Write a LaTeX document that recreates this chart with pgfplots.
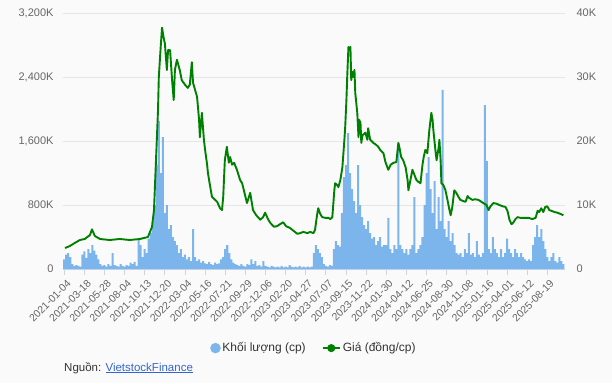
\documentclass[border=0pt]{standalone}
\usepackage{pgfplots}
\pgfplotsset{compat=1.18}
\usepackage{fontspec}
\setmainfont{Liberation Sans}
\definecolor{vol}{HTML}{7CB5EC}
\definecolor{price}{HTML}{008000}
\definecolor{gridc}{HTML}{E6E6E6}
\definecolor{axisc}{HTML}{CCD6EB}
\definecolor{lbl}{HTML}{666666}
\definecolor{txt}{HTML}{333333}
\definecolor{bg}{HTML}{FAFAFA}
\definecolor{link}{HTML}{3366CC}

\pgfplotstableread{
x v
0 120
5 180
10 200
15 150
20 60
25 40
30 50
35 40
40 30
45 180
50 220
55 140
60 250
65 200
70 300
75 230
80 180
85 120
90 60
95 40
100 50
105 30
110 60
115 40
120 200
125 50
130 40
135 30
140 60
145 40
150 30
155 50
160 40
165 80
170 60
175 90
180 40
185 360
190 300
195 150
200 250
205 200
210 380
215 450
220 600
225 800
230 1300
235 1850
240 1200
245 1650
250 700
255 800
260 500
265 550
270 400
275 350
280 300
285 200
290 250
295 150
300 180
305 120
310 150
315 100
320 500
325 150
330 100
335 120
340 80
345 100
350 70
355 60
360 90
365 60
370 50
375 80
380 60
385 70
390 120
395 150
400 250
405 300
410 200
415 120
420 80
425 60
430 50
435 40
440 60
445 40
450 30
455 60
460 50
465 120
470 60
475 100
480 40
485 50
490 30
495 100
500 40
505 30
510 20
515 40
520 30
525 20
530 30
535 20
540 40
545 20
550 30
555 20
560 50
565 30
570 20
575 30
580 20
585 40
590 20
595 30
600 20
605 30
610 20
615 30
620 200
625 300
630 250
635 200
640 150
645 60
650 40
655 30
660 50
665 40
670 250
675 350
680 300
685 280
690 700
695 1150
700 1300
705 1700
710 1200
715 1000
720 850
725 700
730 1300
735 800
740 650
745 550
750 500
755 600
760 450
765 380
770 400
775 300
780 350
785 400
790 280
795 300
800 300
805 640
810 250
815 200
820 300
825 250
830 1575
835 300
840 250
845 200
850 250
855 180
860 250
865 300
870 900
875 200
880 250
885 300
890 400
895 800
900 1200
905 1400
910 1000
915 700
920 1100
925 500
930 900
935 600
940 2240
945 500
950 400
955 600
960 350
965 450
970 300
975 200
980 180
985 200
990 150
995 250
1000 200
1005 450
1010 180
1015 200
1020 150
1025 350
1030 180
1035 150
1040 200
1045 2050
1050 1350
1055 250
1060 200
1065 400
1070 250
1075 200
1080 150
1085 250
1090 150
1095 200
1100 380
1105 250
1110 200
1115 150
1120 250
1125 200
1130 150
1135 200
1140 150
1145 120
1150 100
1155 120
1160 100
1165 300
1170 400
1175 550
1180 400
1185 500
1190 350
1195 250
1200 150
1205 100
1210 150
1215 200
1220 100
1225 80
1230 150
1235 100
1240 60
}\voltable

\pgfplotstableread{
x p
2 3.28
14 3.59
26 4.06
39 4.53
51 4.69
64 5.31
69 6.2
76 5.16
89 4.69
113 4.53
138 4.69
163 4.53
188 4.69
208 5.0
218 6.56
223 9.2
228 17.0
233 24.8
235 30.0
240 35.0
243 37.7
248 35.8
250 35.3
255 31.1
258 34.2
263 34.2
268 29.5
272 26.4
275 31.1
280 32.7
287 31.1
292 29.5
300 28.8
307 28.3
312 28.8
317 32.3
320 29.1
325 28.0
330 26.9
335 23.3
337 20.6
342 24.4
347 20.2
350 18.6
355 16.3
357 15.0
362 13.1
367 11.3
375 10.8
380 10.5
387 9.5
392 9.2
395 11.3
399 17.0
404 19.1
409 16.6
412 17.5
417 16.3
422 16.6
429 15.5
437 13.9
442 13.4
449 11.6
454 10.3
462 11.9
469 9.2
477 8.4
487 7.7
494 8.1
499 8.8
507 7.7
512 7.2
521 6.6
529 6.7
536 7.0
544 7.3
551 6.7
561 6.4
571 5.9
579 5.5
586 5.6
594 5.8
604 5.6
611 5.8
619 5.6
623 6.1
628 8.4
631 9.5
636 8.6
641 8.1
648 8.0
656 8.0
661 7.8
666 8.1
671 12.3
673 13.4
678 13.1
681 12.8
686 13.9
691 15.9
696 20.2
698 22.2
701 26.4
703 30.0
706 34.7
708 34.2
711 34.7
713 29.5
716 30.8
718 30.0
721 31.1
723 27.5
728 24.4
731 20.6
733 23.3
736 22.8
738 19.7
741 20.9
748 21.3
753 20.2
755 22.0
760 20.2
768 19.7
775 19.4
780 19.1
785 18.6
793 18.1
798 16.7
805 15.5
811 16.3
818 16.6
825 16.7
830 19.7
833 18.9
837 17.5
842 17.0
848 15.9
853 13.9
855 12.3
860 13.9
865 15.5
870 14.7
875 13.9
880 13.6
885 13.4
890 16.3
893 17.5
897 18.6
902 18.1
907 21.7
912 24.4
915 23.3
917 21.7
922 18.6
925 17.0
927 17.8
930 18.9
932 20.2
935 17.0
937 13.4
942 13.1
947 12.3
952 10.8
957 9.2
960 8.4
964 9.7
969 12.3
974 11.9
979 11.3
984 10.8
992 10.6
997 10.5
1002 11.4
1006 11.1
1014 10.8
1021 10.9
1029 10.8
1034 10.6
1041 10.3
1049 10.0
1054 9.2
1059 9.8
1066 10.3
1074 10.2
1081 10.0
1089 9.8
1096 9.7
1101 9.1
1106 7.7
1111 7.0
1116 7.3
1121 7.8
1126 8.1
1133 8.0
1143 8.0
1153 8.0
1163 7.8
1171 8.0
1176 9.1
1180 8.9
1185 9.5
1190 8.9
1195 9.7
1200 9.8
1205 9.2
1210 9.1
1218 8.9
1225 8.8
1233 8.6
1240 8.4
}\pricetable

\begin{document}
\begin{tikzpicture}[x=1pt,y=1pt]
\fill[bg] (-63,-114) rectangle (549,269);
\useasboundingbox (-63,-114) rectangle (549,269);
\begin{axis}[
  at={(0,0)}, anchor=south west, scale only axis,
  width=502pt, height=256pt,
  xmin=-3, xmax=1244, ymin=0, ymax=3200,
  axis x line*=bottom, axis y line*=left,
  x axis line style={axisc, line width=0.8pt, -},
  y axis line style={draw=none},
  ytick={0,800,1600,2400,3200},
  yticklabels={0,800K,{1,600K},{2,400K},{3,200K}},
  ymajorgrids, grid style={gridc, line width=0.8pt},
  major y tick style={draw=none},
  xtick={0,50,...,1200},
  xticklabels={2021-01-04,2021-03-18,2021-05-28,2021-08-04,2021-10-13,2021-12-20,2022-03-04,2022-05-16,2022-07-21,2022-09-29,2022-12-06,2023-02-20,2023-04-27,2023-07-07,2023-09-15,2023-11-22,2024-01-30,2024-04-12,2024-06-25,2024-08-30,2024-11-08,2025-01-16,2025-04-01,2025-06-12,2025-08-19},
  xtick align=outside, major tick length=6pt,
  major x tick style={axisc, line width=0.8pt},
  tick label style={font=\fontsize{11}{13}\selectfont, text=lbl},
  yticklabel style={xshift=-6pt},
  xticklabel style={rotate=45, anchor=north east, font=\fontsize{10.5}{12}\selectfont, xshift=2pt, yshift=-1pt},
]
\addplot[ybar, bar width=5, bar shift=0pt, fill=vol, draw=none] table[x=x, y=v] {\voltable};
\end{axis}
\begin{axis}[
  at={(0,0)}, anchor=south west, scale only axis,
  width=502pt, height=256pt,
  xmin=-3, xmax=1244, ymin=0, ymax=40,
  axis x line=none, axis y line*=right,
  y axis line style={draw=none},
  ytick={0,10,20,30,40},
  yticklabels={0,10K,20K,30K,40K},
  major y tick style={draw=none},
  tick label style={font=\fontsize{11}{13}\selectfont, text=lbl},
  yticklabel style={anchor=west, xshift=8pt},
  legend style={at={(0.5,-0.309)}, anchor=center, draw=none, fill=none,
    font=\fontsize{12}{14}\selectfont, text=txt,
    /tikz/every even column/.append style={column sep=14pt}},
  legend columns=2,
]
\addlegendimage{only marks, mark=*, mark size=5pt, color=vol}
\addlegendentry{Khối lượng (cp)}
\addlegendimage{price, line width=2pt, mark=*, mark size=3pt}
\addlegendentry{Giá (đồng/cp)}
\addplot[price, line width=1.9pt, line join=round, forget plot] table[x=x, y=p] {\pricetable};
\end{axis}
\node[anchor=base west, font=\fontsize{11.5}{13}\selectfont, text=txt, inner sep=0pt] at (1,-102) {Nguồn: \textcolor{link}{\underline{VietstockFinance}}};
\end{tikzpicture}
\end{document}
